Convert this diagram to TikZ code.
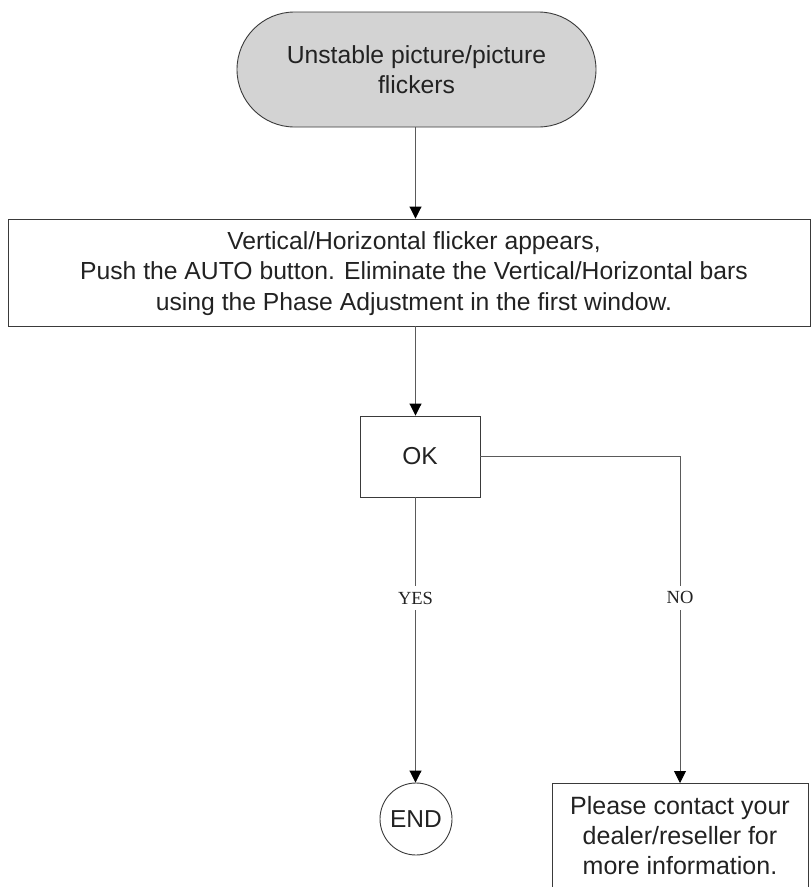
\documentclass[tikz,border=0pt]{standalone}
\usepackage{fontspec}
\setmainfont{Liberation Sans}
\newfontfamily\serifx{Liberation Serif}
\usetikzlibrary{shapes.misc,arrows.meta}
\definecolor{linegray}{HTML}{5A5A5A}
\definecolor{boxline}{HTML}{3A3A3A}
\definecolor{fillgray}{HTML}{D3D3D3}
\definecolor{txt}{HTML}{222222}
\tikzset{
  conn/.style={draw=linegray, line width=0.9pt},
  arr/.style={conn, -{Triangle[length=12pt,width=12pt,color=black]}},
  boxx/.style={draw=boxline, line width=0.9pt, rectangle, inner sep=0pt, text=txt},
  bigtxt/.style={font=\fontsize{24.7}{30.5}\selectfont, text=txt, align=center, inner sep=0pt},
  lbl/.style={font=\serifx\fontsize{18.5}{20}\selectfont, text=txt, fill=white, inner xsep=2pt, inner ysep=6pt},
}
\begin{document}
\begin{tikzpicture}[x=1pt,y=-1pt]
\useasboundingbox (0,0) rectangle (811,887);
\clip (0,0) rectangle (811,887);
% nodes
\node[rounded rectangle, draw=boxline, line width=0.9pt, fill=fillgray, minimum width=359pt, minimum height=115pt, bigtxt] (start) at (416.5,69.5) {Unstable picture/picture\\flickers};
\node[boxx, minimum width=802pt, minimum height=107pt] (step2) at (409,272.5) {};
\node[bigtxt] (step2txt) at (414,273.5) {Vertical/Horizontal flicker appears,\\Push the AUTO button. Eliminate the Vertical/Horizontal bars\\using the Phase Adjustment in the first window.};
\node[boxx, minimum width=120pt, minimum height=81pt, font=\fontsize{24.5}{28}\selectfont] (ok) at (420,456.5) {OK};
\node[circle, draw=boxline, line width=0.9pt, minimum size=72pt, inner sep=0pt, text=txt, font=\fontsize{24.5}{28}\selectfont] (endn) at (416,819) {END};
\node[boxx, minimum width=256pt, minimum height=140pt, anchor=north] (contact) at (680,783) {};
\node[bigtxt, font=\fontsize{25}{30}\selectfont] (contacttxt) at (680,836) {Please contact your\\dealer/reseller for\\more information.};
% connectors
\coordinate (col) at (415.5,0);
\coordinate (corner) at (680,456.5);
\draw[arr] (start.south -| col) -- (step2.north -| col);
\draw[arr] (step2.south -| col) -- (ok.north -| col);
\draw[arr] (ok.south -| col) -- node[lbl, pos=0.353] (yes) {YES} (endn.north -| col);
\draw[arr] (ok.east) -- (corner) -- node[lbl, pos=0.433] (no) {NO} (corner |- contact.north);
\end{tikzpicture}
\end{document}
